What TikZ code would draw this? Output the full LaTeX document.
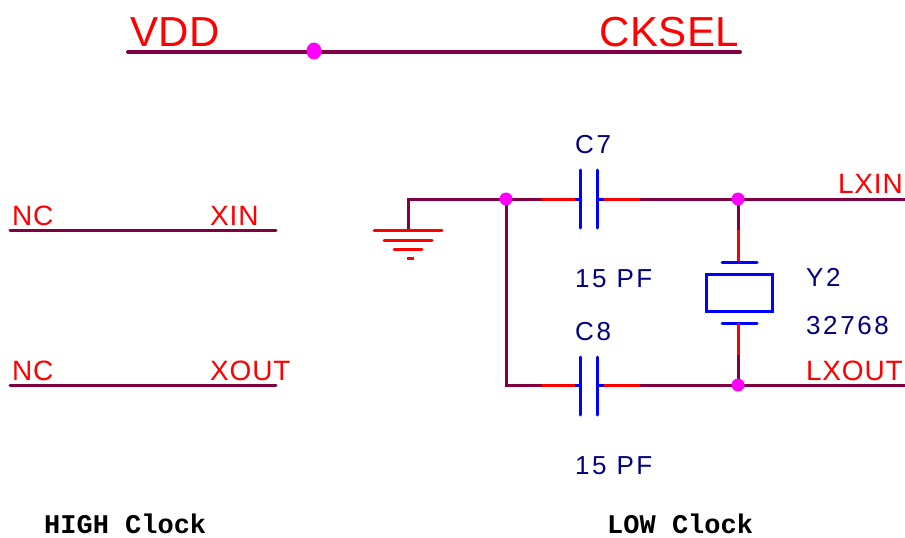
\documentclass[tikz,border=0pt]{standalone}
\usepackage{fontspec}
\setmainfont{Liberation Sans}
\newfontfamily\monobold{Liberation Mono}
\newfontfamily\spaced[LetterSpace=10]{Liberation Sans}
\newfontfamily\netspaced[LetterSpace=3]{Liberation Sans}
\newfontfamily\bigspaced[LetterSpace=1]{Liberation Sans}
\definecolor{wire}{HTML}{800040}
\definecolor{pinred}{HTML}{FF0000}
\definecolor{partblue}{HTML}{0000FF}
\definecolor{labnavy}{HTML}{000080}
\definecolor{junc}{HTML}{FF00FF}
\tikzset{
  wireline/.style={draw=wire, line width=3pt, line cap=round},
  pinline/.style={draw=pinred, line width=3pt},
  plate/.style={draw=partblue, line width=3pt, line cap=round},
  netlab/.style={text=pinred, inner sep=0pt, font=\netspaced\fontsize{28}{28}\selectfont},
  biglab/.style={text=pinred, inner sep=0pt, font=\bigspaced\fontsize{42}{42}\selectfont},
  partlab/.style={text=labnavy, inner sep=0pt, font=\spaced\fontsize{26}{26}\selectfont},
  caption/.style={text=black, inner sep=0pt, font=\monobold\bfseries\fontsize{27}{27}\selectfont},
  dotj/.style={fill=junc, draw=none},
}
\begin{document}
\begin{tikzpicture}[x=1pt,y=-1pt]
\useasboundingbox (0,0) rectangle (905,538);
% top bus
\coordinate (t1) at (128,52);
\coordinate (t2) at (740,52);
\coordinate (tj) at (314,51);
\draw[wireline, line width=4pt] (t1) -- (t2);
\fill[dotj] (tj) ellipse (7.5 and 8.5);
\node[biglab, anchor=base west] (vdd) at (130,46) {VDD};
\node[biglab, anchor=base east] (cksel) at (739,46) {CKSEL};
% NC lines
\coordinate (a1) at (10,230); \coordinate (a2) at (276,230);
\coordinate (b1) at (10,385); \coordinate (b2) at (276,385);
\draw[wireline] (a1) -- (a2);
\draw[wireline] (b1) -- (b2);
\node[netlab, anchor=base west] (nc1) at (12,225) {NC};
\node[netlab, anchor=base west] (xin) at (210,225) {XIN};
\node[netlab, anchor=base west] (nc2) at (12,380) {NC};
\node[netlab, anchor=base west] (xout) at (210,380) {XOUT};
% ground
\coordinate (g0) at (408,230);
\coordinate (gc) at (408,199);
\coordinate (j1) at (506,199);
\coordinate (j1b) at (506,385);
\draw[wireline, line cap=butt] (g0) -- (gc) -- (j1);
\draw[pinline, line cap=round] (374,230) -- (442,230);
\draw[pinline, line cap=round] (384,240) -- (432,240);
\draw[pinline, line cap=round] (394,249) -- (422,249);
\draw[pinline] (407,258) -- (414,258);
% C7
\coordinate (c7a) at (542,199); \coordinate (c7b) at (575,199);
\coordinate (c7c) at (604,199); \coordinate (c7d) at (640,199);
\coordinate (j2) at (738,199);
\coordinate (lxinend) at (905,199);
\draw[wireline, line cap=butt] (j1) -- (c7a);
\draw[pinline] (c7a) -- (c7b);
\draw[plate, line cap=butt] (c7b) -- (580,199);
\draw[plate] (580,170) -- (580,228);
\draw[plate] (597,170) -- (597,228);
\draw[plate, line cap=butt] (597,199) -- (c7c);
\draw[pinline] (c7c) -- (c7d);
\draw[wireline, line cap=butt] (c7d) -- (lxinend);
\node[partlab, anchor=base west] (c7lab) at (575,153) {C7};
\node[partlab, anchor=base west] (c7val) at (575,287) {15 PF};
% C8
\coordinate (c8a) at (542,385); \coordinate (c8b) at (575,385);
\coordinate (c8c) at (604,385); \coordinate (c8d) at (640,385);
\coordinate (j3) at (738,385);
\coordinate (lxoutend) at (905,385);
\draw[wireline, line cap=butt] (j1) -- (j1b) -- (c8a);
\draw[pinline] (c8a) -- (c8b);
\draw[plate, line cap=butt] (c8b) -- (580,385);
\draw[plate] (580,357) -- (580,415);
\draw[plate] (597,357) -- (597,415);
\draw[plate, line cap=butt] (597,385) -- (c8c);
\draw[pinline] (c8c) -- (c8d);
\draw[wireline, line cap=butt] (c8d) -- (lxoutend);
\node[partlab, anchor=base west] (c8lab) at (575,340) {C8};
\node[partlab, anchor=base west] (c8val) at (575,474) {15 PF};
% crystal
\draw[wireline, line cap=butt] (j2) -- (738,230);
\draw[pinline] (738,230) -- (738,262);
\draw[plate] (722,262) -- (757,262);
\draw[draw=partblue, line width=3pt] (706,274) rectangle (772,311);
\draw[plate] (722,323) -- (757,323);
\draw[pinline] (738,323) -- (738,355);
\draw[wireline, line cap=butt] (738,355) -- (j3);
\node[partlab, anchor=base west] (y2lab) at (806,286) {Y2};
\node[partlab, anchor=base west] (y2val) at (806,334) {32768};
% junctions
\fill[dotj] (j1) circle (6.5);
\fill[dotj] (j2) circle (6.5);
\fill[dotj] (j3) circle (6.5);
\node[netlab, anchor=base east] (lxin) at (903,193) {LXIN};
\node[netlab, anchor=base east] (lxout) at (903,380) {LXOUT};
% captions
\node[caption, anchor=base west] (high) at (44,533) {HIGH Clock};
\node[caption, anchor=base west] (low) at (607,533) {LOW Clock};
\end{tikzpicture}
\end{document}
